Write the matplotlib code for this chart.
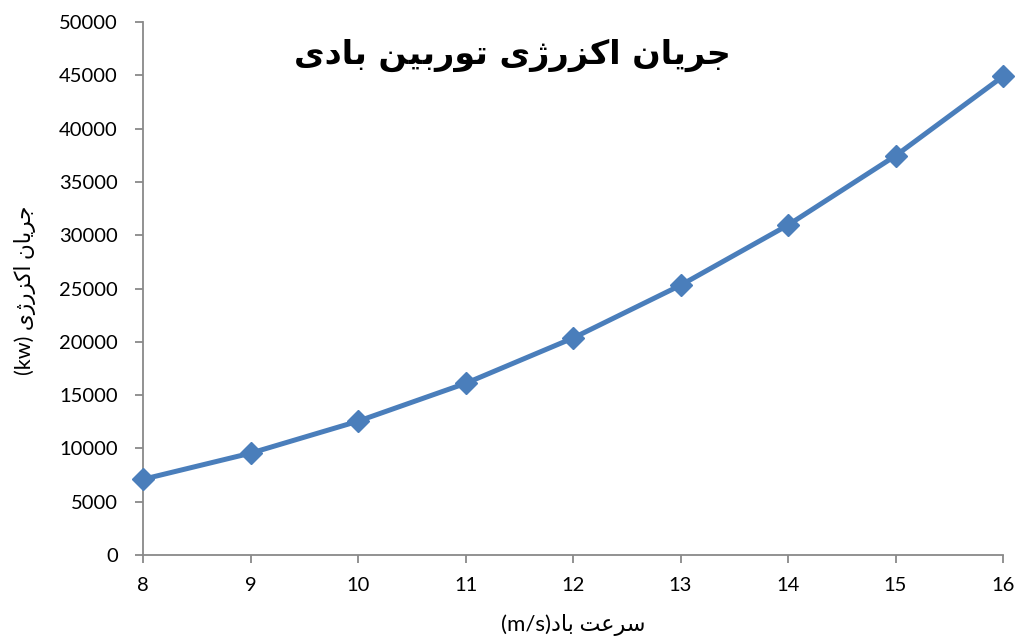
import matplotlib
matplotlib.use("Agg")
import matplotlib.pyplot as plt

# data
wind_speed = [8, 9, 10, 11, 12, 13, 14, 15, 16]
exergy_kw = [7100, 9550, 12550, 16100, 20350, 25300, 30950, 37450, 44900]
y_ticks = [0, 5000, 10000, 15000, 20000, 25000, 30000, 35000, 40000, 45000, 50000]

# Persian text, pre-shaped (presentation forms) in visual order
def visual(s):
    return s[::-1]

title_logical = ("\uFE9F\uFEAE\uFBFE\uFE8E\uFEE5 "
                 "\uFE8D\uFB90\uFEB0\uFEAD\uFB8A\uFBFC "
                 "\uFE97\uFEEE\uFEAD\uFE91\uFBFF\uFEE6 "
                 "\uFE91\uFE8E\uFEA9\uFBFC")
ylab_logical = ("\uFE9F\uFEAE\uFBFE\uFE8E\uFEE5 "
                "\uFE8D\uFB90\uFEB0\uFEAD\uFB8A\uFBFC")
xlab_logical = "\uFEB3\uFEAE\uFECB\uFE96 \uFE91\uFE8E\uFEA9"

title_text = visual(title_logical)
ylab_text = "(kw) " + visual(ylab_logical)
xlab_text = "(m/s)" + visual(xlab_logical)

fam = ["Lato", "DejaVu Sans"]
plt.rcParams["font.family"] = fam

fig = plt.figure(figsize=(10.22, 6.42), dpi=100)
ax = fig.add_axes([143/1022, 87/642, 860/1022, 533/642])

ax.plot(wind_speed, exergy_kw, color="#4A7EBB", linewidth=3.6,
        marker="D", markersize=11, markerfacecolor="#4A7EBB",
        markeredgecolor="#4A7EBB", solid_joinstyle="round", clip_on=False,
        zorder=5)

ax.set_xlim(8, 16)
ax.set_ylim(0, 50000)
ax.set_xticks(wind_speed)
ax.set_yticks(y_ticks)
ax.tick_params(axis="both", labelsize=14.5, labelcolor="black", length=6,
               width=1.3, direction="out", color="#898989")
ax.tick_params(axis="x", pad=10)
ax.tick_params(axis="y", pad=12)
for s in ["top", "right"]:
    ax.spines[s].set_visible(False)
for s in ["left", "bottom"]:
    ax.spines[s].set_color("#898989")
    ax.spines[s].set_linewidth(1.3)

fig.text(512/1022, 1 - 55/642, title_text, ha="center", va="center",
         fontsize=24, fontweight="bold", family=["DejaVu Sans"])
fig.text(25/1022, 1 - 290/642, ylab_text, rotation=90, ha="center",
         va="center", fontsize=15.5, family=fam)
fig.text(573/1022, 1 - 625/642, xlab_text, ha="center", va="center",
         fontsize=16, family=fam)

fig.savefig("out.png", dpi=100)
